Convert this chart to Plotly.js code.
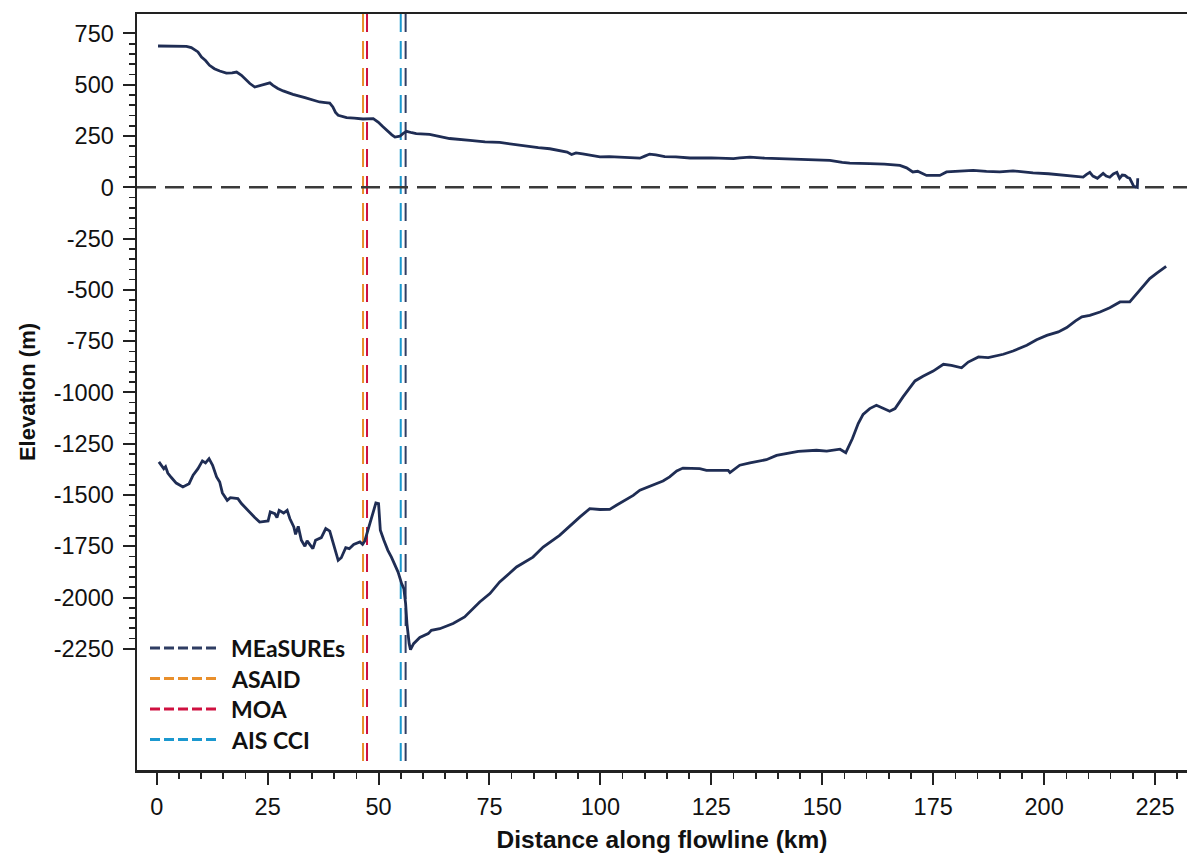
<!DOCTYPE html>
<html>
<head>
<meta charset="utf-8">
<script src="https://cdn.plot.ly/plotly-3.0.1.min.js"></script>
<style>html,body{margin:0;padding:0;background:#fff;}#chart{width:1187px;height:854px;}</style>
</head>
<body>
<div id="chart"></div>
<script>
// ---- Data ----
// Ice surface elevation along flowline (km, m)
const surfaceKm = [0.3, 3, 6.7, 7.8, 8.5, 9.3, 10.1, 11.0, 11.9, 13, 14.2, 15.7, 17, 18.0, 19.1, 20, 21.0, 22.1, 23.6, 25.5, 26.2, 27.3, 28.5, 30.7, 33.4, 35.2, 36.7, 38, 39.0, 39.7, 40.3, 40.9, 42.8, 44.5, 46.5, 48.8, 49.9, 51, 51.8, 53, 53.7, 54.8, 55.5, 56.3, 57.5, 58.5, 61.5, 64, 66, 70.6, 74, 77.3, 80, 83, 86, 88.6, 91, 92.5, 93.5, 94.5, 96, 99.9, 102, 104.4, 108.9, 110, 111.1, 112.5, 114.5, 117, 120.2, 125, 130, 131.4, 133.7, 137, 142.7, 147, 151.7, 154.5, 156.2, 160.7, 164, 167.5, 169, 170.4, 171.5, 173.5, 176.5, 178, 181, 184, 187, 190, 193, 197.5, 201, 205, 207, 208.8, 209.5, 210.3, 211, 212, 213.3, 214, 214.8, 215.6, 216.4, 217, 217.6, 218.2, 218.8, 219.3, 220.2, 221, 221.1];
const surfaceElev = [689, 688, 687, 681, 672, 660, 635, 618, 595, 578, 567, 557, 558, 562, 546, 527, 506, 489, 497, 509, 497, 482, 470, 453, 437, 424, 416, 413, 411, 392, 365, 351, 340, 337, 333, 335, 318, 295, 278, 256, 245, 249, 262, 273, 266, 262, 258, 247, 238, 229, 222, 219, 210, 200, 193, 188, 180, 172, 160, 168, 163, 148, 150, 146, 142, 152, 162, 158, 150, 148, 143, 144, 140, 143, 147, 142, 138, 136, 131, 122, 118, 115, 113, 107, 95, 75, 78, 58, 58, 75, 78, 83, 78, 75, 80, 70, 66, 58, 55, 50, 62, 73, 55, 44, 68, 55, 49, 65, 73, 44, 60, 58, 48, 44, 5, 0, 44];

// Bed elevation along flowline (km, m)
const bedKm = [0.5, 1.1, 1.6, 2.0, 2.5, 3.3, 4.4, 5.9, 7.3, 8.2, 9.3, 10.3, 11.0, 11.8, 12.6, 13.5, 14.2, 14.8, 15.9, 16.6, 18.3, 19.1, 20.6, 22.1, 23.2, 25.1, 25.6, 26.6, 27.1, 27.6, 28.6, 29.4, 30.0, 30.9, 31.3, 31.9, 32.6, 33.4, 33.9, 35.2, 35.8, 37.1, 38.1, 39.0, 39.7, 40.9, 41.6, 42.6, 43.4, 44.4, 45.8, 46.4, 46.9, 47.9, 48.6, 49.4, 50.0, 50.4, 51.2, 52.1, 52.9, 53.7, 54.4, 55.2, 55.7, 56.1, 56.4, 56.9, 57.2, 57.9, 59.3, 61.2, 61.9, 63.8, 66.8, 69.4, 72.8, 75.1, 77.3, 81.1, 84.8, 87.1, 90.8, 95.4, 97.6, 99.9, 102.1, 103.6, 107.4, 108.9, 111.9, 114.1, 115.6, 117.2, 118.6, 122.4, 123.9, 128.8, 129.2, 131.4, 133.7, 135.9, 137.4, 139.7, 142.0, 144.6, 148.7, 151.0, 154.0, 155.3, 156.8, 158.1, 159.2, 160.7, 162.2, 163.7, 165.2, 166.4, 168.2, 170.9, 172.7, 175.0, 177.3, 179.1, 181.4, 182.9, 185.2, 187.4, 190.8, 193.0, 196.1, 198.3, 200.6, 203.2, 205.1, 207.0, 208.5, 210.3, 212.6, 214.8, 217.1, 219.3, 221.6, 223.8, 225.4, 227.5];
const bedElev = [-1339, -1355, -1372, -1362, -1393, -1415, -1442, -1461, -1445, -1404, -1372, -1334, -1344, -1323, -1355, -1412, -1437, -1490, -1526, -1513, -1518, -1542, -1578, -1610, -1632, -1627, -1583, -1591, -1610, -1575, -1588, -1575, -1615, -1656, -1692, -1653, -1721, -1750, -1724, -1762, -1721, -1708, -1664, -1676, -1729, -1819, -1806, -1757, -1762, -1741, -1729, -1741, -1724, -1653, -1599, -1539, -1542, -1672, -1721, -1770, -1803, -1843, -1876, -1932, -1957, -2030, -2127, -2225, -2254, -2225, -2195, -2176, -2160, -2152, -2127, -2095, -2022, -1981, -1924, -1851, -1803, -1754, -1697, -1607, -1567, -1571, -1570, -1550, -1502, -1477, -1453, -1432, -1412, -1383, -1369, -1372, -1380, -1380, -1391, -1355, -1344, -1334, -1328, -1307, -1298, -1287, -1282, -1286, -1277, -1294, -1225, -1152, -1107, -1079, -1063, -1079, -1092, -1079, -1022, -944, -921, -896, -863, -868, -880, -852, -827, -830, -814, -798, -770, -743, -722, -705, -684, -652, -632, -624, -608, -587, -559, -559, -499, -445, -418, -385];

// Grounding line positions from each product (km)
const refNames = ['MEaSUREs', 'ASAID', 'MOA', 'AIS CCI'];
const refKm = [56.1, 46.5, 47.4, 55.0];
const refColors = ['#2f3d63', '#e98f2b', '#cf1040', '#1b98cf'];

// Axis ticks
const xTickVals = [0, 25, 50, 75, 100, 125, 150, 175, 200, 225];
const xTickText = ['0', '25', '50', '75', '100', '125', '150', '175', '200', '225'];
const yTickVals = [750, 500, 250, 0, -250, -500, -750, -1000, -1250, -1500, -1750, -2000, -2250];
const yTickText = ['750', '500', '250', '0', '-250', '-500', '-750', '-1000', '-1250', '-1500', '-1750', '-2000', '-2250'];

// ---- Layout constants ----
const W = 1187, H = 854;
const M = {l: 137, r: 0, t: 14, b: 84};
const xRange = [-4.44, 232.2];
const yRange = [-2841, 845];
const lineColor = '#1f2d54';
const axisColor = '#222222';

const yMinor = [];
for (let v = -2250; v <= 750; v += 50) { if (v % 250 !== 0) yMinor.push(v); }

const traces = [
  {x: surfaceKm, y: surfaceElev, type: 'scatter', mode: 'lines',
   line: {color: lineColor, width: 2.8}, showlegend: false, hoverinfo: 'skip'},
  {x: bedKm, y: bedElev, type: 'scatter', mode: 'lines',
   line: {color: lineColor, width: 2.8}, showlegend: false, hoverinfo: 'skip'}
];

const shapes = [];
// vertical grounding-line markers
refKm.forEach((k, i) => {
  shapes.push({type: 'line', xref: 'x', yref: 'paper', x0: k, x1: k, y0: 1, y1: 0,
    layer: 'below', line: {color: refColors[i], width: 2, dash: '18px,9px'}});
});
// sea level
shapes.push({type: 'line', xref: 'paper', yref: 'y', x0: 0, x1: 1, y0: 0, y1: 0,
  layer: 'below', line: {color: '#3a3a3a', width: 2.5, dash: '19px,9px'}});

// custom legend (pixel positions converted to paper)
const plotW = W - M.l - M.r, plotH = H - M.t - M.b;
const px2x = p => (p - M.l) / plotW;
const px2y = p => (H - M.b - p) / plotH;
const annotations = [];
refNames.forEach((n, i) => {
  const yy = px2y(648 + i * 30.5);
  shapes.push({type: 'line', xref: 'paper', yref: 'paper', x0: px2x(150), x1: px2x(218), y0: yy, y1: yy,
    line: {color: refColors[i], width: 3, dash: '10px,4px'}});
  annotations.push({xref: 'paper', yref: 'paper', x: px2x(229), y: yy, xanchor: 'left', yanchor: 'middle',
    text: n, showarrow: false, font: {family: 'Lato, sans-serif', size: 23, color: '#111', weight: 'bold'}});
});

const tickFont = {family: 'Liberation Sans, Arial, sans-serif', size: 23.5, color: '#111'};
const xTitleFont = {family: 'Liberation Sans, Arial, sans-serif', size: 24.5, color: '#111', weight: 'bold'};
const yTitleFont = {family: 'Liberation Sans, Arial, sans-serif', size: 22, color: '#111', weight: 'bold'};

const layout = {
  width: W, height: H, margin: M,
  paper_bgcolor: '#fff', plot_bgcolor: '#fff',
  showlegend: false,
  font: {family: 'Liberation Sans, Arial, sans-serif'},
  xaxis: {
    range: xRange, tickmode: 'array', tickvals: xTickVals, ticktext: xTickText,
    ticks: 'outside', ticklen: 12, tickwidth: 2, tickcolor: axisColor,
    showline: true, linewidth: 2.5, linecolor: axisColor, mirror: true,
    showgrid: false, zeroline: false, tickfont: tickFont, ticklabelstandoff: 2,
    minor: {tickmode: 'linear', tick0: 0, dtick: 5, ticks: 'outside', ticklen: 6, tickwidth: 1.6, tickcolor: axisColor, showgrid: false},
    title: {text: 'Distance along flowline (km)', font: xTitleFont, standoff: 12}
  },
  yaxis: {
    range: yRange, tickmode: 'array', tickvals: yTickVals, ticktext: yTickText,
    ticks: 'outside', ticklen: 12, tickwidth: 2, tickcolor: axisColor,
    showline: true, linewidth: 2.5, linecolor: axisColor, mirror: false,
    showgrid: false, zeroline: false, tickfont: tickFont, ticklabelstandoff: 4,
    minor: {tickmode: 'array', tickvals: yMinor, ticks: 'outside', ticklen: 6, tickwidth: 1.6, tickcolor: axisColor, showgrid: false},
    title: {text: 'Elevation (m)', font: yTitleFont, standoff: 12}
  },
  shapes: shapes,
  annotations: annotations
};

Plotly.newPlot('chart', traces, layout, {staticPlot: true, displayModeBar: false});
</script>
</body>
</html>
